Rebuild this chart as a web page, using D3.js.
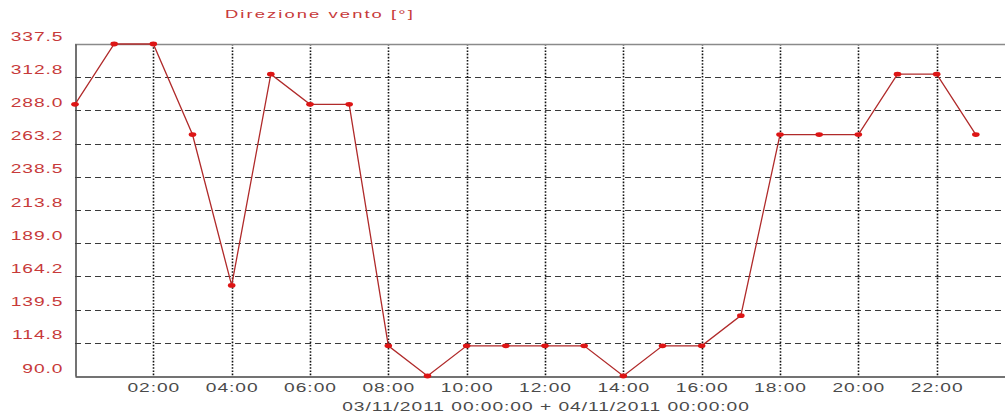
<!DOCTYPE html>
<html>
<head>
<meta charset="utf-8">
<script src="https://cdn.jsdelivr.net/npm/d3@7"></script>
<style>
  body { margin: 0; background: #fff; }
  svg { display: block; font-family: "Liberation Sans", Arial, sans-serif; }
</style>
</head>
<body>
<script>
// hourly wind direction, 03/11/2011
var hours = [0, 1, 2, 3, 4, 5, 6, 7, 8, 9, 10, 11, 12, 13, 14, 15, 16, 17, 18, 19, 20, 21, 22, 23];
var direction = [292.5, 337.5, 337.5, 270, 157.5, 315, 292.5, 292.5, 112.5, 90, 112.5, 112.5,
                 112.5, 112.5, 90, 112.5, 112.5, 135, 270, 270, 270, 315, 315, 270];
var yTicks = [90.0, 114.75, 139.5, 164.25, 189.0, 213.75, 238.5, 263.25, 288.0, 312.75, 337.5];
var yTickLabels = ["90.0", "114.8", "139.5", "164.2", "189.0", "213.8", "238.5", "263.2", "288.0", "312.8", "337.5"];
var xTicks = [2, 4, 6, 8, 10, 12, 14, 16, 18, 20, 22];
var xTickLabels = ["02:00", "04:00", "06:00", "08:00", "10:00", "12:00", "14:00", "16:00", "18:00", "20:00", "22:00"];
var title = "Direzione vento [\u00b0]";
var period = "03/11/2011 00:00:00 + 04/11/2011 00:00:00";

var W = 1005, H = 418;
var margin = {top: 44, left: 75, bottom: 376};
var sx = 1.6; // the original fonts are drawn stretched horizontally

var x = d3.scaleLinear().domain([0, 24]).range([margin.left, 1015]);
var y = d3.scaleLinear().domain([90, 337.5]).range([margin.bottom, margin.top]);

var svg = d3.select("body").append("svg")
    .attr("width", W)
    .attr("height", H);

// horizontal dashed grid
svg.append("g")
    .selectAll("line")
    .data(yTicks.slice(1, -1))
    .enter().append("line")
    .attr("x1", margin.left).attr("x2", W)
    .attr("y1", d => Math.round(y(d)) + 0.5).attr("y2", d => Math.round(y(d)) + 0.5)
    .attr("stroke", "#3a3a3a")
    .attr("stroke-dasharray", "6,4");

// vertical dotted grid
svg.append("g")
    .selectAll("line")
    .data(xTicks)
    .enter().append("line")
    .attr("x1", d => Math.round(x(d)) + 0.5).attr("x2", d => Math.round(x(d)) + 0.5)
    .attr("y1", margin.top).attr("y2", margin.bottom)
    .attr("stroke", "#111")
    .attr("stroke-width", 1.6)
    .attr("stroke-dasharray", "1.6,1.6");

// frame: top border, left and bottom axes
svg.append("line")
    .attr("x1", margin.left).attr("x2", W)
    .attr("y1", margin.top + 0.5).attr("y2", margin.top + 0.5)
    .attr("stroke", "#8a8a8a").attr("stroke-width", 1.5);

var yAxis = svg.append("g")
    .attr("transform", "translate(" + (margin.left + 0.5) + ",0)")
    .call(d3.axisLeft(y).tickValues(yTicks).tickSize(0)
        .tickFormat((d, i) => yTickLabels[i]));
yAxis.select(".domain").attr("stroke", "#444").attr("stroke-width", 1.5);
yAxis.selectAll(".tick text")
    .attr("x", -12 / sx)
    .attr("dy", null)
    .attr("y", -4)
    .attr("transform", "scale(" + sx + ",1)")
    .attr("fill", "#c73a3a")
    .attr("font-size", 12)
    .attr("letter-spacing", 0.6);

var xAxis = svg.append("g")
    .attr("transform", "translate(0," + (margin.bottom + 0.5) + ")")
    .call(d3.axisBottom(x).tickValues(xTicks).tickSize(0)
        .tickFormat((d, i) => xTickLabels[i]));
xAxis.select(".domain").attr("stroke", "#444").attr("stroke-width", 1.5);
xAxis.selectAll(".tick text")
    .attr("y", 7)
    .attr("transform", "scale(" + sx + ",1)")
    .attr("fill", "#4a4a4a")
    .attr("font-size", 12)
    .attr("letter-spacing", 0.6);

// series
var pts = hours.map((h, i) => ({h: h, v: direction[i]}));

svg.append("path")
    .datum(pts)
    .attr("fill", "none")
    .attr("stroke", "#b02a2a")
    .attr("stroke-width", 1.3)
    .attr("d", d3.line().x(d => x(d.h)).y(d => y(d.v)));

svg.append("g")
    .selectAll("ellipse")
    .data(pts)
    .enter().append("ellipse")
    .attr("cx", d => x(d.h))
    .attr("cy", d => y(d.v))
    .attr("rx", 3.8)
    .attr("ry", 2.4)
    .attr("fill", "#dd1515");

// title and period labels
svg.append("text")
    .attr("transform", "translate(225,18) scale(" + sx + ",1)")
    .attr("fill", "#c73a3a")
    .attr("font-size", 11.5)
    .attr("letter-spacing", 1.3)
    .text(title);

svg.append("text")
    .attr("transform", "translate(546,411) scale(" + sx + ",1)")
    .attr("text-anchor", "middle")
    .attr("fill", "#4a4a4a")
    .attr("font-size", 12)
    .attr("letter-spacing", 0.6)
    .text(period);
</script>
</body>
</html>
